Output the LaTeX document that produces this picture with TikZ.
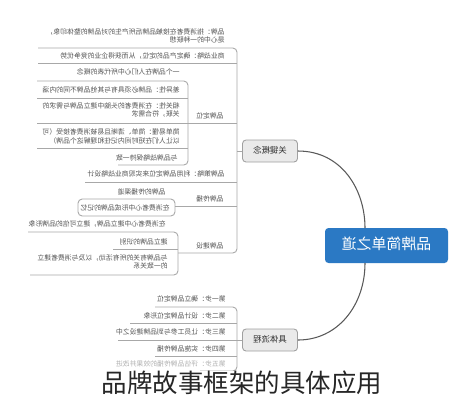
\documentclass[tikz,border=0pt]{standalone}
\usepackage{fontspec}
\usepackage{graphicx}
\newfontfamily\cjk{Noto Sans CJK SC}
\definecolor{mainblue}{RGB}{43,121,196}
\definecolor{txtgray}{RGB}{85,85,85}
\definecolor{linegray}{RGB}{168,168,168}
\definecolor{catfill}{RGB}{234,234,234}
\definecolor{catdraw}{RGB}{160,160,160}
\newcommand{\mirr}[1]{\reflectbox{\begin{tabular}{@{}l@{}}#1\end{tabular}}}
\tikzset{
  st/.style={font=\cjk\fontsize{3.9}{4.8}\selectfont, text=txtgray, inner sep=0pt, anchor=east},
  faded/.style={text=txtgray!45},
  br/.style={draw=linegray, line width=0.5pt, rounded corners=2.4pt},
  catbox/.style={draw=catdraw, fill=catfill, rounded corners=2pt, line width=0.5pt,
    minimum width=1.1cm, minimum height=0.44cm, inner sep=0pt,
    font=\cjk\fontsize{4.8}{5.5}\selectfont, text=black!80},
  mainbox/.style={fill=mainblue, rounded corners=2pt, minimum width=2.46cm,
    minimum height=0.7cm, inner sep=0pt, text=white, font=\cjk\fontsize{8.5}{9}\selectfont},
  curve/.style={draw=black!65, line width=0.6pt}
}
\begin{document}
\begin{tikzpicture}[x=0.02cm,y=-0.02cm]
\useasboundingbox[fill=white] (0,0) rectangle (475,400);

% central and category nodes
\node[mainbox] (main) at (386.5,245.5) {\mirr{品牌简单之道}};
\node[catbox] (kc) at (270,151) {\mirr{关键概念}};
\node[catbox] (jt) at (270,340) {\mirr{具体流程}};
\coordinate (m1) at (365,228);
\coordinate (m2) at (365,263);
\coordinate (ks) at (237,151);
\coordinate (js) at (237,340);

\draw[curve] (kc.east) .. controls (342,151) and (365,190) .. (m1);
\draw[curve] (m2) .. controls (365,305) and (338,340) .. (jt.east);

% ---------- 关键概念 children ----------
\node[st] (k1) at (225,37) {\mirr{品牌：指消费者在接触品牌后所产生的对品牌的整体印象，\\是心中的一种联想}};
\node[st] (k2) at (225,57) {\mirr{商业战略：确定产品的定位，从而获得企业的竞争优势}};
\node[st] (k3) at (224,117) {\mirr{品牌定位}};
\node[st] (k4) at (225,175) {\mirr{品牌策略：利用品牌定位来实现商业战略设计}};
\node[st] (k5) at (224,200) {\mirr{品牌传播}};
\node[st] (k6) at (224,247) {\mirr{品牌建设}};

\draw[br] (38,48) -- (237,48) -- (237,253) -- (178,253);
\draw[br] (38,63) -- (237,63);
\draw[br] (85,182) -- (237,182);
\draw[br] (175,206) -- (237,206);
\draw[br] (ks) -- (kc.west);

% 品牌定位 children
\node[st] (p1) at (180,73) {\mirr{一个品牌在人们心中所代表的概念}};
\node[st] (p2) at (180,91) {\mirr{差异性：品牌必须具有与其他品牌不同的内涵}};
\node[st] (p3) at (180,111) {\mirr{相关性：在消费者的头脑中建立品牌与需求的\\关联，符合需求}};
\node[st] (p4) at (180,137.5) {\mirr{简单易懂：简单、清晰且易被消费者接受（可\\以让人们在短时间内记住和理解这个品牌）}};
\node[st] (p5) at (178,158.5) {\mirr{与品牌战略保持一致}};

\draw[br] (37,81) -- (188,81) -- (188,165) -- (118,165);
\draw[br] (37,98) -- (188,98);
\draw[br] (37,123) -- (237,123);
\draw[br] (37,148) -- (188,148);

% 品牌传播 children
\node[st] (c1) at (166,193) {\mirr{品牌的传播渠道}};
\node[st] (c2) at (170,209) {\mirr{在消费者心中形成品牌的记忆}};
\draw[br] (175,199) -- (78,199) -- (78,216) -- (175,216) -- cycle;

% 品牌建设 children
\node[st] (b1) at (166,225) {\mirr{在消费者心中建立品牌，建立可信的品牌形象}};
\node[st] (b2) at (168,243) {\mirr{建立品牌的识别}};
\node[st] (b3) at (168,263) {\mirr{与品牌有关的所有活动，以及与消费者建立\\的一致关系}};
\draw[br] (28,232) -- (178,232) -- (178,275) -- (30,275);
\draw[br] (113,249) -- (178,249);

% ---------- 具体流程 children ----------
\node[st] (j1) at (226,300) {\mirr{第一步：确立品牌定位}};
\node[st] (j2) at (226,316.5) {\mirr{第二步：设计品牌定位形象}};
\node[st] (j3) at (226,333) {\mirr{第三步：让员工参与到品牌建设之中}};
\node[st] (j4) at (226,349.5) {\mirr{第四步：实施品牌传播}};
\node[st,faded] (j5) at (226,365) {\mirr{第五步：评估品牌传播的效果并改进}};

\draw[br] (155,307) -- (237,307) -- (237,371) -- (200,371);
\draw[br, draw=linegray!50] (200,371) -- (115,371);
\draw[br] (130,323) -- (237,323);
\draw[br] (118,340) -- (237,340);
\draw[br] (155,356) -- (237,356);
\draw[br] (js) -- (jt.west);

% caption
\node[font=\cjk\fontsize{14.5}{16}\selectfont, text=black!85, inner sep=0pt, fill=white] (cap) at (242,383) {品牌故事框架的具体应用};
\end{tikzpicture}
\end{document}
